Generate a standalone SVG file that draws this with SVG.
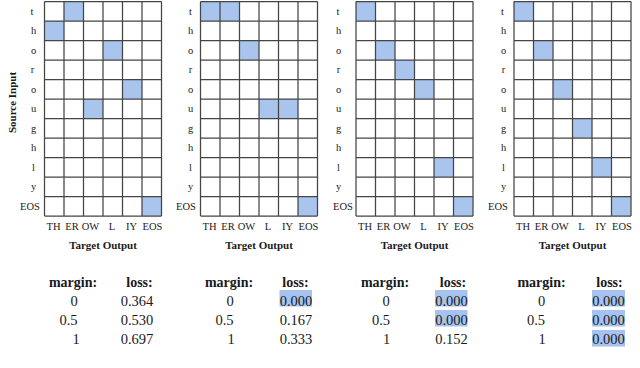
<svg xmlns="http://www.w3.org/2000/svg" xmlns:xlink="http://www.w3.org/1999/xlink" width="640" height="368" viewBox="0 0 640 368">
<style>
text{font-family:"Liberation Serif","Times New Roman",serif;fill:#1a1a1a}
.lb{font-size:10.5px}
.mid{text-anchor:middle}
.ax{font-size:11px;font-weight:bold;text-anchor:middle}
.hd{font-size:14px;font-weight:bold;text-anchor:middle}
.num{font-size:14.5px;text-anchor:middle}
.cell{fill:#a9c5ee}
.hl{fill:#a6c2ee}
.gl{stroke:#454545;stroke-width:1.25;fill:none}
</style>
<defs>
<g id="lines" class="gl">
<path d="M0 0V214.5M19.5 0V214.5M39 0V214.5M58.5 0V214.5M78 0V214.5M97.5 0V214.5M117 0V214.5"/>
<path d="M0 0H117M0 19.5H117M0 39H117M0 58.5H117M0 78H117M0 97.5H117M0 117H117M0 136.5H117M0 156H117M0 175.5H117M0 195H117M0 214.5H117"/>
</g>
<g id="cols" class="lb mid">
<text x="9" y="228">TH</text>
<text x="27.5" y="228">ER</text>
<text x="46" y="228">OW</text>
<text x="67.5" y="228">L</text>
<text x="87" y="228">IY</text>
<text x="108" y="228">EOS</text>
<text class="ax" x="58.5" y="247">Target Output</text>
</g>
</defs>

<g id="grid1" transform="translate(44.5,1.5)">
<rect class="cell" x="19.5" y="0" width="19.5" height="19.5"/>
<rect class="cell" x="0" y="19.5" width="19.5" height="19.5"/>
<rect class="cell" x="58.5" y="39" width="19.5" height="19.5"/>
<rect class="cell" x="78" y="78" width="19.5" height="19.5"/>
<rect class="cell" x="39" y="97.5" width="19.5" height="19.5"/>
<rect class="cell" x="97.5" y="195" width="19.5" height="19.5"/>
<use xlink:href="#lines"/>
<g class="lb mid">
<text x="-12.5" y="13.25">t</text><text x="-11" y="32.75">h</text><text x="-11" y="52.25">o</text><text x="-12" y="71.75">r</text><text x="-11" y="91.25">o</text><text x="-11" y="110.75">u</text><text x="-11" y="130.25">g</text><text x="-11" y="149.75">h</text><text x="-11" y="169.25">l</text><text x="-11" y="188.75">y</text><text x="-14.5" y="208.25">EOS</text>
</g>
<use xlink:href="#cols"/>
<text class="ax" transform="translate(-29,101) rotate(-90)">Source Input</text>
</g>

<g id="grid2" transform="translate(200.5,1.5)">
<rect class="cell" x="0" y="0" width="19.5" height="19.5"/>
<rect class="cell" x="19.5" y="0" width="19.5" height="19.5"/>
<rect class="cell" x="39" y="39" width="19.5" height="19.5"/>
<rect class="cell" x="58.5" y="97.5" width="19.5" height="19.5"/>
<rect class="cell" x="78" y="97.5" width="19.5" height="19.5"/>
<rect class="cell" x="97.5" y="195" width="19.5" height="19.5"/>
<use xlink:href="#lines"/>
<g class="lb mid">
<text x="-10" y="13.25">t</text><text x="-10" y="32.75">h</text><text x="-10" y="52.25">o</text><text x="-10" y="71.75">r</text><text x="-10" y="91.25">o</text><text x="-10" y="110.75">u</text><text x="-10" y="130.25">g</text><text x="-10" y="149.75">h</text><text x="-10" y="169.25">l</text><text x="-10" y="188.75">y</text><text x="-14.5" y="208.25">EOS</text>
</g>
<use xlink:href="#cols"/>
</g>

<g id="grid3" transform="translate(356,1.5)">
<rect class="cell" x="0" y="0" width="19.5" height="19.5"/>
<rect class="cell" x="19.5" y="39" width="19.5" height="19.5"/>
<rect class="cell" x="39" y="58.5" width="19.5" height="19.5"/>
<rect class="cell" x="58.5" y="78" width="19.5" height="19.5"/>
<rect class="cell" x="78" y="156" width="19.5" height="19.5"/>
<rect class="cell" x="97.5" y="195" width="19.5" height="19.5"/>
<use xlink:href="#lines"/>
<g class="lb mid">
<text x="-18" y="13.25">t</text><text x="-17.5" y="32.75">h</text><text x="-17.5" y="52.25">o</text><text x="-17.5" y="71.75">r</text><text x="-17.5" y="91.25">o</text><text x="-17.5" y="110.75">u</text><text x="-17.5" y="130.25">g</text><text x="-17.5" y="149.75">h</text><text x="-17.5" y="169.25">l</text><text x="-17.5" y="188.75">y</text><text x="-13" y="208.25">EOS</text>
</g>
<use xlink:href="#cols"/>
</g>

<g id="grid4" transform="translate(514,1.5)">
<rect class="cell" x="0" y="0" width="19.5" height="19.5"/>
<rect class="cell" x="19.5" y="39" width="19.5" height="19.5"/>
<rect class="cell" x="39" y="78" width="19.5" height="19.5"/>
<rect class="cell" x="58.5" y="117" width="19.5" height="19.5"/>
<rect class="cell" x="78" y="156" width="19.5" height="19.5"/>
<rect class="cell" x="97.5" y="195" width="19.5" height="19.5"/>
<use xlink:href="#lines"/>
<g class="lb mid">
<text x="-11.5" y="13.25">t</text><text x="-10.5" y="32.75">h</text><text x="-10.5" y="52.25">o</text><text x="-10.5" y="71.75">r</text><text x="-10.5" y="91.25">o</text><text x="-10.5" y="110.75">u</text><text x="-10.5" y="130.25">g</text><text x="-10.5" y="149.75">h</text><text x="-10.5" y="169.25">l</text><text x="-10.5" y="188.75">y</text><text x="-16" y="208.25">EOS</text>
</g>
<use xlink:href="#cols"/>
</g>

<g id="table1">
<text class="hd" x="73" y="286.5">margin:</text>
<text class="hd" x="139.5" y="286.5">loss:</text>
<text class="num" x="74" y="305.5">0</text>
<text class="num" x="68.5" y="324.5">0.5</text>
<text class="num" x="76" y="344">1</text>
<text class="num" x="137" y="305.5">0.364</text>
<text class="num" x="137" y="324.5">0.530</text>
<text class="num" x="137" y="344">0.697</text>
</g>

<g id="table2">
<rect class="hl" x="279.5" y="290" width="32.5" height="16.5"/>
<text class="hd" x="229" y="286.5">margin:</text>
<text class="hd" x="295.5" y="286.5">loss:</text>
<text class="num" x="230" y="305.5">0</text>
<text class="num" x="224.5" y="324.5">0.5</text>
<text class="num" x="231" y="344">1</text>
<text class="num" x="296" y="305.5">0.000</text>
<text class="num" x="296" y="324.5">0.167</text>
<text class="num" x="296" y="344">0.333</text>
</g>

<g id="table3">
<rect class="hl" x="435" y="290" width="32.5" height="16.5"/>
<rect class="hl" x="435" y="310" width="32.5" height="16.5"/>
<text class="hd" x="385" y="286.5">margin:</text>
<text class="hd" x="453" y="286.5">loss:</text>
<text class="num" x="386" y="305.5">0</text>
<text class="num" x="381" y="324.5">0.5</text>
<text class="num" x="386.5" y="344">1</text>
<text class="num" x="451.5" y="305.5">0.000</text>
<text class="num" x="451.5" y="324.5">0.000</text>
<text class="num" x="451.5" y="344">0.152</text>
</g>

<g id="table4">
<rect class="hl" x="592" y="290" width="33" height="16.5"/>
<rect class="hl" x="592" y="310" width="33" height="16.5"/>
<rect class="hl" x="592" y="330" width="33" height="16.5"/>
<text class="hd" x="541.5" y="286.5">margin:</text>
<text class="hd" x="609.5" y="286.5">loss:</text>
<text class="num" x="541.5" y="305.5">0</text>
<text class="num" x="536" y="324.5">0.5</text>
<text class="num" x="542" y="344">1</text>
<text class="num" x="608.5" y="305.5">0.000</text>
<text class="num" x="608.5" y="324.5">0.000</text>
<text class="num" x="608.5" y="344">0.000</text>
</g>
</svg>
